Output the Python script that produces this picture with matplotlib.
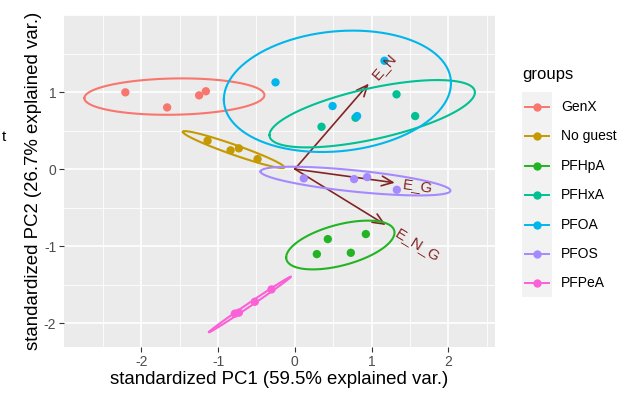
import numpy as np
import matplotlib
matplotlib.use("Agg")
import matplotlib.pyplot as plt
from matplotlib.lines import Line2D
from matplotlib.patches import Rectangle

plt.rcParams['font.family'] = ['Liberation Sans', 'DejaVu Sans']

# PCA scores per group (PC1, PC2)
groups = ["GenX", "No guest", "PFHpA", "PFHxA", "PFOA", "PFOS", "PFPeA"]
colors = ["#F8766D", "#C49A00", "#22B422", "#00C094", "#00B6EB", "#A58AFF", "#FB61D7"]

pc1 = {
    "GenX":     [-2.21, -1.665, -1.248, -1.16],
    "No guest": [-1.138, -0.838, -0.730, -0.486],
    "PFHpA":    [0.430, 0.926, 0.287, 0.730],
    "PFHxA":    [0.348, 0.791, 1.326, 1.569],
    "PFOA":     [-0.252, 0.492, 0.812, 1.169],
    "PFOS":     [0.117, 0.773, 0.943, 1.330],
    "PFPeA":    [-0.782, -0.730, -0.522, -0.304],
}
pc2 = {
    "GenX":     [0.996, 0.80, 0.957, 1.01],
    "No guest": [0.368, 0.243, 0.269, 0.130],
    "PFHpA":    [-0.909, -0.844, -1.104, -1.087],
    "PFHxA":    [0.549, 0.666, 0.970, 0.688],
    "PFOA":     [1.126, 0.818, 0.688, 1.406],
    "PFOS":     [-0.121, -0.130, -0.104, -0.269],
    "PFPeA":    [-1.877, -1.864, -1.723, -1.562],
}

# loading vectors
var_names = ["E_N", "E_G", "E_N_G"]
var_x = [0.965, 1.304, 1.186]
var_y = [1.11, -0.178, -0.727]

ellipse_prob = 0.95
arrow_col = "#832424"

W, H = 630, 394
fig = plt.figure(figsize=(W / 100, H / 100), dpi=100)
ax = fig.add_axes([64 / W, 1 - 347 / H, (495 - 64) / W, (347 - 15) / H])
ax.set_facecolor("#EBEBEB")
ax.set_xlim(-3.01, 2.61)
ax.set_ylim(-2.31, 2.0)

# grid like ggplot
for v in np.arange(-2.5, 2.6, 1.0):
    ax.axvline(v, color="white", lw=0.6, zorder=0)
for v in np.arange(-1.5, 1.6, 1.0):
    ax.axhline(v, color="white", lw=0.6, zorder=0)
for v in [-2, -1, 0, 1, 2]:
    ax.axvline(v, color="white", lw=1.2, zorder=0)
    ax.axhline(v, color="white", lw=1.2, zorder=0)

for s in ax.spines.values():
    s.set_visible(False)
ax.set_xticks([-2, -1, 0, 1, 2])
ax.set_yticks([-2, -1, 0, 1])
ax.set_xticklabels(["-2", "-1", "0", "1", "2"])
ax.set_yticklabels(["-2", "-1", "0", "1"])
ax.tick_params(colors="#333333", labelcolor="#4D4D4D", labelsize=10, length=3.5, width=0.8, pad=2)

ax.set_xlabel("standardized PC1 (59.5% explained var.)", fontsize=13.4, labelpad=2)
ax.set_ylabel("standardized PC2 (26.7% explained var.)", fontsize=13.4, labelpad=1)

# arrows first
for nm, vx, vy in zip(var_names, var_x, var_y):
    ax.annotate("", xy=(vx, vy), xytext=(0, 0),
                arrowprops=dict(arrowstyle="->,head_length=0.8,head_width=0.35",
                                color=arrow_col, lw=1.2, shrinkA=0, shrinkB=0,
                                mutation_scale=10),
                zorder=2)

# points and data ellipses
ed = np.sqrt(-2 * np.log(1 - ellipse_prob))
theta = np.linspace(-np.pi, np.pi, 100)
circle = np.column_stack([np.cos(theta), np.sin(theta)])
for g, c in zip(groups, colors):
    x = np.array(pc1[g])
    y = np.array(pc2[g])
    ax.scatter(x, y, s=36, color=c, edgecolors="none", zorder=3)
    sigma = np.cov(np.vstack([x, y]))
    L = np.linalg.cholesky(sigma)
    ell = circle @ L.T * ed + np.array([x.mean(), y.mean()])
    ax.plot(ell[:, 0], ell[:, 1], color=c, lw=1.5, zorder=4)

# variable labels
for nm, vx, vy in zip(var_names, var_x, var_y):
    p0 = ax.transData.transform((0, 0))
    p1 = ax.transData.transform((vx, vy))
    ang = np.degrees(np.arctan2(p1[1] - p0[1], p1[0] - p0[0]))
    off = 1.6 * len(nm) + 1
    ax.annotate(nm, xy=(vx, vy), xytext=(off * np.cos(np.radians(ang)), off * np.sin(np.radians(ang))),
                textcoords="offset points", rotation=ang, rotation_mode="anchor",
                ha="left", va="center", color=arrow_col, fontsize=11, zorder=5)

# legend
fig.text(522 / W, 1 - 75 / H, "groups", fontsize=12, ha="left", va="center")
fig.add_artist(Rectangle((522 / W, 1 - 297 / H), 30 / W, 205 / H,
                         transform=fig.transFigure, facecolor="#F2F2F2", edgecolor="none"))
for i, (g, c) in enumerate(zip(groups, colors)):
    yy = 1 - (107 + 29.4 * i) / H
    fig.add_artist(Line2D([525 / W, 549 / W], [yy, yy], transform=fig.transFigure,
                          color=c, lw=1.4))
    fig.add_artist(Line2D([537 / W], [yy], transform=fig.transFigure,
                          color=c, marker="o", markersize=6, markeredgewidth=0, lw=0))
    fig.text(561 / W, yy, g, fontsize=10, ha="left", va="center")

fig.text(0.003, 1 - 137 / H, "t", fontsize=11, ha="left", va="center")

fig.savefig("out.png", dpi=100)
